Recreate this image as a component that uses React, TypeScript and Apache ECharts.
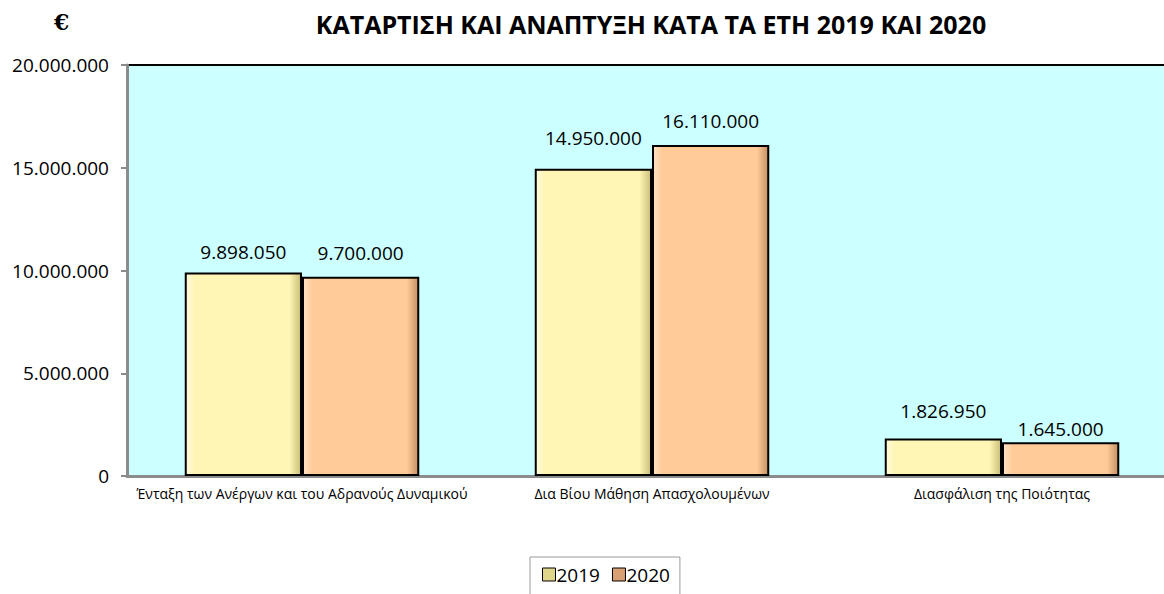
import React, { useEffect, useRef } from "react";
import * as echarts from "echarts";

const categories = [
  "Ένταξη των Ανέργων και του Αδρανούς Δυναμικού",
  "Δια Βίου Μάθηση Απασχολουμένων",
  "Διασφάλιση της Ποιότητας",
];
const values2019 = [9898050, 14950000, 1826950];
const values2020 = [9700000, 16110000, 1645000];
const seriesNames = ["2019", "2020"];
const yTicks = { min: 0, max: 20000000, interval: 5000000 };

const fmt = (v: number) => String(Math.round(v)).replace(/\B(?=(\d{3})+(?!\d))/g, ".");

const FONT = "'Open Sans', 'Noto Sans', sans-serif";

function grad(light: string, base: string, dark: string) {
  return new echarts.graphic.LinearGradient(0, 0, 1, 0, [
    { offset: 0, color: light },
    { offset: 0.08, color: base },
    { offset: 0.9, color: base },
    { offset: 1, color: dark },
  ]);
}

export default function App() {
  const ref = useRef<HTMLDivElement>(null);
  useEffect(() => {
    document.body.style.margin = "0";
    const chart = echarts.init(ref.current!, null, { renderer: "svg" });
    const labelDist = [
      [11, 21, 18],
      [14, 14, 4],
    ];
    const mkData = (vals: number[], s: number) =>
      vals.map((v, i) => ({ value: v, label: { distance: labelDist[s][i] } }));
    const label = {
      show: true,
      position: "top" as const,
      color: "#000",
      fontSize: 19,
      fontFamily: FONT,
      formatter: (p: any) => fmt(p.value),
    };
    chart.setOption({
      animation: false,
      backgroundColor: "#fff",
      title: {
        text: "ΚΑΤΑΡΤΙΣΗ ΚΑΙ ΑΝΑΠΤΥΞΗ ΚΑΤΑ ΤΑ ΕΤΗ 2019 ΚΑΙ 2020",
        left: 646,
        top: 6,
        textAlign: "center",
        textStyle: { fontSize: 25, fontWeight: "bold", color: "#000", fontFamily: FONT },
      },
      graphic: [
        {
          type: "text",
          left: 54,
          top: 11,
          style: { text: "€", fontSize: 22, fontWeight: "bold", fill: "#000", fontFamily: "'DejaVu Serif', serif" },
        },
      ],
      legend: {
        left: 530,
        top: 557,
        icon: "rect",
        itemWidth: 13,
        itemHeight: 13,
        itemGap: 12,
        padding: [8, 10, 12, 12],
        borderColor: "#9a9a9a",
        borderWidth: 1,
        textStyle: { fontSize: 19, fontFamily: FONT, color: "#000", padding: [0, 0, 0, -4] },
        data: [
          { name: seriesNames[0], itemStyle: { color: "#e0d68a", borderColor: "#000", borderWidth: 1 } },
          { name: seriesNames[1], itemStyle: { color: "#d9a073", borderColor: "#000", borderWidth: 1 } },
        ],
      },
      grid: {
        left: 127,
        top: 65,
        right: 0,
        bottom: 118,
        show: true,
        backgroundColor: "#ccffff",
        borderColor: "#000",
        borderWidth: 2,
      },
      xAxis: {
        type: "category",
        data: categories,
        axisLine: { show: true, lineStyle: { color: "#8c8c8c", width: 3 } },
        axisTick: { show: false },
        axisLabel: { fontSize: 14, color: "#000", fontFamily: FONT, margin: 10, interval: 0 },
      },
      yAxis: {
        type: "value",
        min: yTicks.min,
        max: yTicks.max,
        interval: yTicks.interval,
        axisLine: { show: true, lineStyle: { color: "#8c8c8c", width: 3 } },
        axisTick: { show: true, length: 6, lineStyle: { color: "#8c8c8c", width: 2 } },
        splitLine: { show: false },
        axisLabel: { fontSize: 19, color: "#000", fontFamily: FONT, margin: 18, formatter: (v: number) => fmt(v) },
      },
      series: [
        {
          name: seriesNames[0],
          type: "bar",
          data: mkData(values2019, 0),
          barGap: "0%",
          barCategoryGap: "33%",
          itemStyle: { color: grad("#fffbe0", "#fff5b4", "#c9be78"), borderColor: "#000", borderWidth: 2 },
          label,
        },
        {
          name: seriesNames[1],
          type: "bar",
          data: mkData(values2020, 1),
          barGap: "0%",
          barCategoryGap: "33%",
          itemStyle: { color: grad("#ffe3c6", "#ffcc99", "#c48f62"), borderColor: "#000", borderWidth: 2 },
          label,
        },
      ],
    });
    return () => chart.dispose();
  }, []);
  return (
    <div style={{ width: 1164, height: 594, overflow: "hidden" }}>
      <div ref={ref} style={{ width: 1177, height: 594 }} />
    </div>
  );
}
